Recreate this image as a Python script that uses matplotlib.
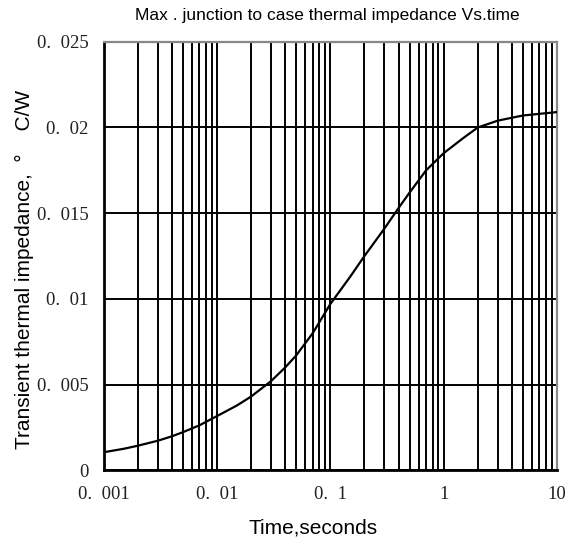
import matplotlib
matplotlib.use('Agg')
import matplotlib.pyplot as plt
from matplotlib.ticker import FixedLocator, NullFormatter

# values
time_s = [0.001, 0.0015, 0.002, 0.003, 0.004, 0.005, 0.007, 0.01, 0.015, 0.02,
          0.03, 0.04, 0.05, 0.07, 0.1, 0.15, 0.2, 0.3, 0.4, 0.5,
          0.7, 1.0, 1.5, 2.0, 3.0, 5.0, 10.0]
zth = [0.00105, 0.00125, 0.00143, 0.00172, 0.00198, 0.00222, 0.00262, 0.00316, 0.00378, 0.0043,
       0.0052, 0.0060, 0.0067, 0.0080, 0.0097, 0.0113, 0.0125, 0.0141, 0.0153, 0.0162,
       0.0175, 0.0185, 0.0194, 0.0200, 0.0204, 0.0207, 0.0209]

x_ticks = [0.001, 0.01, 0.1, 1, 10]
x_labels = ['0.  001', '0.  01', '0.  1', '1', '10']
y_ticks = [0, 0.005, 0.01, 0.015, 0.02, 0.025]
y_labels = ['0', '0.  005', '0.  01', '0.  015', '0.  02', '0.  025']

sans = ['Liberation Sans', 'DejaVu Sans']
serif = ['Liberation Serif', 'DejaVu Serif']

fig = plt.figure(figsize=(5.79, 5.43), dpi=100)
ax = fig.add_axes([0.179, 0.134, 0.783, 0.789])

ax.plot(time_s, zth, color='black', lw=1.6, zorder=3)

ax.set_xscale('log')
ax.set_xlim(0.001, 10)
ax.set_ylim(0, 0.025)

minors = [m * 10.0 ** e for e in range(-3, 1) for m in range(2, 10)]
ax.xaxis.set_major_locator(FixedLocator(x_ticks))
ax.xaxis.set_minor_locator(FixedLocator(minors))
ax.xaxis.set_minor_formatter(NullFormatter())
ax.set_xticks(x_ticks, x_labels, fontfamily=serif, fontsize=13.5, color='#222222')
ax.set_yticks(y_ticks, y_labels, fontfamily=serif, fontsize=13.5, color='#222222')
ax.tick_params(which='both', length=0)
ax.tick_params(axis='x', pad=11)
ax.tick_params(axis='y', pad=11)

ax.grid(True, which='both', axis='x', color='black', lw=1.4)
ax.grid(True, which='major', axis='y', color='black', lw=1.4)
for side in ['left', 'bottom']:
    ax.spines[side].set_color('black')
    ax.spines[side].set_linewidth(2)
for side in ['top', 'right']:
    ax.spines[side].set_color('#888888')
    ax.spines[side].set_linewidth(1.6)

fig.text(0.566, 0.963, 'Max . junction to case thermal impedance Vs.time', fontfamily=sans,
         fontsize=12.5, ha='center', va='baseline')
fig.text(0.54, 0.0184, 'Time,seconds', fontfamily=sans, fontsize=15,
         ha='center', va='baseline')
fig.text(0.043, 0.503, 'Transient thermal impedance,  °    C/W', fontfamily=sans,
         fontsize=15, rotation=90, ha='center', va='center')

fig.savefig('out.png', dpi=100)
